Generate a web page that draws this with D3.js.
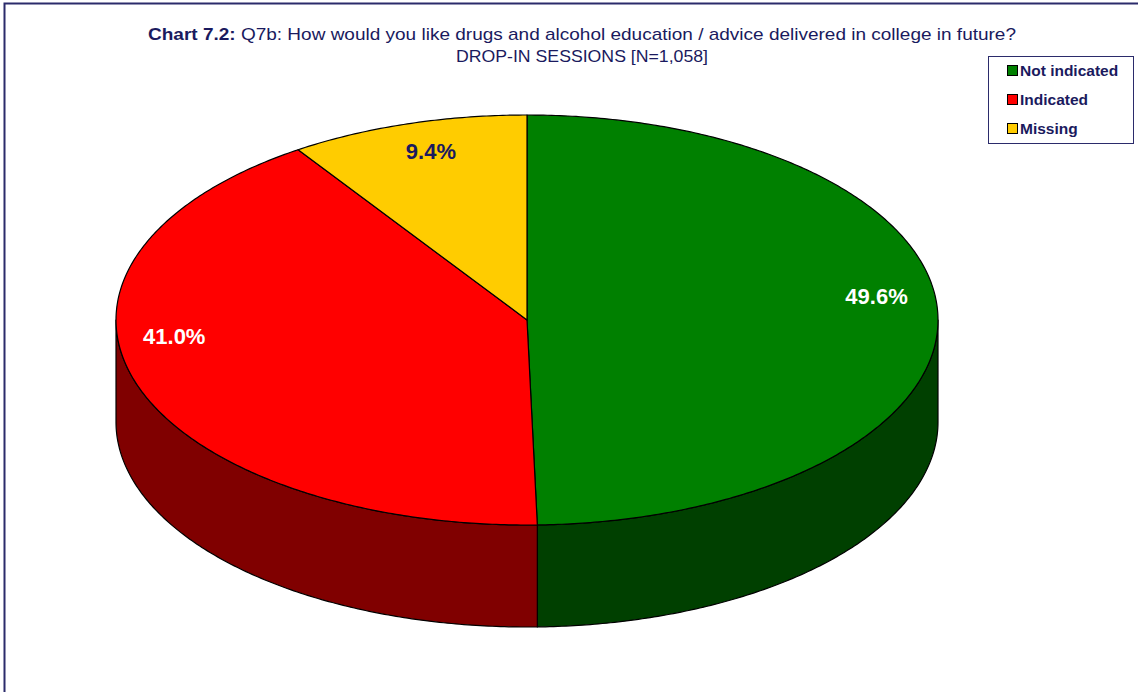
<!DOCTYPE html>
<html><head><meta charset="utf-8">
<script src="https://cdn.jsdelivr.net/npm/d3@7"></script>
<style>body{margin:0;background:#fff}svg{display:block}</style>
</head><body>
<svg id="c" width="1138" height="692"></svg>
<script>
const categories = ["Not indicated", "Indicated", "Missing"];
const values = [49.6, 41.0, 9.4];
const labels = ["49.6%", "41.0%", "9.4%"];
const topColors = ["#008000", "#ff0000", "#ffcc00"];
const sideColors = ["#004000", "#800000", "#806600"];
const labelColors = ["#ffffff", "#ffffff", "#1a1a5e"];

const W = 1138, H = 692;
const svg = d3.select("#c");
const navy = "#1a1a5e";
const font = "Arial, 'Liberation Sans', sans-serif";

// frame
svg.append("rect").attr("x", 4.5).attr("y", 3.5).attr("width", W + 10).attr("height", H + 10)
  .attr("fill", "#fff").attr("stroke", "#2b2b6b").attr("stroke-width", 2);

// title
const t = svg.append("text").attr("x", 582).attr("y", 40).attr("text-anchor", "middle")
  .attr("font-family", font).attr("font-size", 17).attr("fill", navy)
  .attr("textLength", 868).attr("lengthAdjust", "spacingAndGlyphs");
t.append("tspan").attr("font-weight", "bold").text("Chart 7.2:");
t.append("tspan").text(" Q7b: How would you like drugs and alcohol education / advice delivered in college in future?");
svg.append("text").attr("x", 582).attr("y", 62).attr("text-anchor", "middle")
  .attr("font-family", font).attr("font-size", 17).attr("fill", navy)
  .attr("textLength", 252).attr("lengthAdjust", "spacingAndGlyphs")
  .text("DROP-IN SESSIONS [N=1,058]");

// pie geometry
const cx = 527, cy = 320, rx = 411, ry = 205, depth = 102;
const pie = d3.pie().sort(null).value(d => d)(values);
const px = a => cx + rx * Math.sin(a);
const py = (a, dz = 0) => cy - ry * Math.cos(a) + dz;

function arcPts(a0, a1, dz) {
  const n = Math.max(2, Math.ceil(Math.abs(a1 - a0) / 0.01));
  const pts = [];
  for (let i = 0; i <= n; i++) {
    const a = a0 + (a1 - a0) * i / n;
    pts.push([px(a), py(a, dz)]);
  }
  return pts;
}
const line = d3.line();

// sides (front half: PI/2 .. 3PI/2)
const g = svg.append("g");
pie.forEach((p, i) => {
  const a0 = Math.max(p.startAngle, Math.PI / 2), a1 = Math.min(p.endAngle, 3 * Math.PI / 2);
  if (a1 <= a0) return;
  const pts = arcPts(a0, a1, 0).concat(arcPts(a1, a0, depth));
  g.append("path").attr("d", line(pts) + "Z").attr("fill", sideColors[i])
    .attr("stroke", "#000").attr("stroke-width", 1.2).attr("stroke-linejoin", "round");
});

// tops
pie.forEach((p, i) => {
  const pts = [[cx, cy]].concat(arcPts(p.startAngle, p.endAngle, 0));
  g.append("path").attr("d", line(pts) + "Z").attr("fill", topColors[i])
    .attr("stroke", "#000").attr("stroke-width", 1.2).attr("stroke-linejoin", "round");
});

// labels
const nudge = [[-8, -21], [-12, -38], [8, 2]];
pie.forEach((p, i) => {
  const m = (p.startAngle + p.endAngle) / 2;
  const x = cx + 0.87 * rx * Math.sin(m) + nudge[i][0];
  const y = cy - 0.87 * ry * Math.cos(m) + nudge[i][1];
  svg.append("text").attr("x", x).attr("y", y).attr("text-anchor", "middle").attr("dy", "0.35em")
    .attr("font-family", font).attr("font-weight", "bold")
    .attr("font-size", 22).attr("fill", labelColors[i]).text(labels[i]);
});

// legend
const lg = svg.append("g");
lg.append("rect").attr("x", 988.5).attr("y", 56.5).attr("width", 145).attr("height", 87)
  .attr("fill", "#fff").attr("stroke", "#2b2b6b").attr("stroke-width", 1);
categories.forEach((c, i) => {
  const y = 71 + i * 29;
  lg.append("rect").attr("x", 1007.5).attr("y", y - 5.5).attr("width", 10).attr("height", 10)
    .attr("fill", topColors[i]).attr("stroke", "#000").attr("stroke-width", 1);
  lg.append("text").attr("x", 1020).attr("y", y).attr("dy", "0.35em")
    .attr("font-family", font).attr("font-weight", "bold")
    .attr("font-size", 15.5).attr("fill", navy).text(c);
});
</script>
</body></html>
